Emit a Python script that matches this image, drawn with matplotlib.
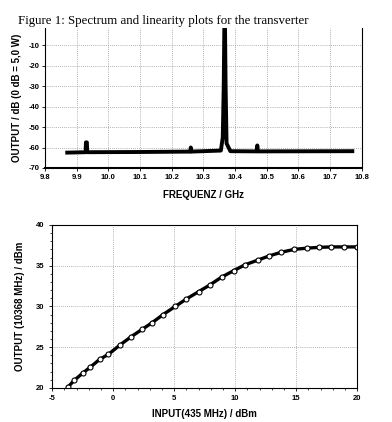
import numpy as np
import matplotlib.pyplot as plt
from matplotlib.ticker import MultipleLocator

# Spektrum (oberes Diagramm)
freq_ghz = [9.87, 9.928, 9.929, 9.932, 9.933, 10.10, 10.258, 10.26, 10.262,
            10.355, 10.361, 10.364, 10.366, 10.368, 10.370, 10.373, 10.385,
            10.468, 10.47, 10.472, 10.77]
level_db = [-62.5, -62.3, -57.5, -57.5, -62.3, -62.2, -62.0, -60.0, -62.0,
            -61.5, -55.0, -30.0, 0.0, 0.0, -30.0, -58.0, -61.8,
            -61.9, -59.0, -61.9, -61.8]
freq_ticks = [9.8, 9.9, 10.0, 10.1, 10.2, 10.3, 10.4, 10.5, 10.6, 10.7, 10.8]
db_ticks = [-70, -60, -50, -40, -30, -20, -10]

# Linearitaet (unteres Diagramm)
input_dbm = [-3.7, -3.2, -2.5, -1.9, -1.1, -0.4, 0.6, 1.5, 2.4, 3.2, 4.1, 5.1,
             6.0, 7.0, 7.9, 8.9, 9.9, 10.8, 11.9, 12.8, 13.8, 14.85, 15.9,
             16.9, 17.9, 18.95, 20.0]
output_dbm = [20.1, 20.9, 21.8, 22.5, 23.5, 24.1, 25.3, 26.3, 27.2, 28.0, 29.0,
              30.0, 30.9, 31.8, 32.6, 33.6, 34.4, 35.1, 35.7, 36.2, 36.65, 37.0,
              37.15, 37.25, 37.3, 37.3, 37.3]

lab_font = {'family': 'Liberation Sans', 'weight': 'bold', 'size': 7}
tick_font = {'family': 'Liberation Sans', 'weight': 'bold', 'size': 5.5}

fig = plt.figure(figsize=(3.92, 4.22), dpi=100)

# oberes Diagramm
ax1 = fig.add_axes([0.115, 0.602, 0.808, 0.332])
ax1.plot(freq_ghz, level_db, color='black', linewidth=2.8, solid_joinstyle='round')
ax1.set_xlim(9.8, 10.8)
ax1.set_ylim(-70, -1.5)
ax1.set_xticks(freq_ticks)
ax1.set_xticklabels(['%.1f' % f for f in freq_ticks], fontdict=tick_font)
ax1.set_yticks(db_ticks)
ax1.set_yticklabels([str(d) for d in db_ticks], fontdict=tick_font)
ax1.grid(True, color='#999999', linestyle=(0, (1, 1.5)), linewidth=0.6)
ax1.spines['top'].set_visible(False)
ax1.spines['bottom'].set_linewidth(1.5)
ax1.spines['left'].set_linewidth(0.8)
ax1.spines['right'].set_linewidth(0.8)
ax1.tick_params(length=2, width=0.6, pad=2)
ax1.set_xlabel('FREQUENZ / GHz', fontdict=lab_font, labelpad=7)
ax1.set_ylabel('OUTPUT / dB (0 dB = 5,0 W)', fontdict=lab_font, labelpad=5)

# unteres Diagramm
ax2 = fig.add_axes([0.133, 0.081, 0.778, 0.386])
ax2.plot(input_dbm, output_dbm, color='black', linewidth=2.4,
         marker='o', markersize=3.6, markerfacecolor='white',
         markeredgecolor='black', markeredgewidth=0.8)
ax2.set_xlim(-5, 20)
ax2.set_ylim(20, 40)
ax2.set_xticks([-5, 0, 5, 10, 15, 20])
ax2.set_xticklabels(['-5', '0', '5', '10', '15', '20'], fontdict=tick_font)
ax2.set_yticks([20, 25, 30, 35, 40])
ax2.set_yticklabels(['20', '25', '30', '35', '40'], fontdict=tick_font)
ax2.xaxis.set_minor_locator(MultipleLocator(1))
ax2.yaxis.set_minor_locator(MultipleLocator(1))
ax2.grid(True, which='major', color='#999999', linestyle=(0, (1, 1.5)), linewidth=0.6)
for s in ax2.spines.values():
    s.set_linewidth(0.8)
ax2.tick_params(which='major', length=2.5, width=0.6, pad=3)
ax2.tick_params(which='minor', length=1.5, width=0.5)
ax2.set_xlabel('INPUT(435 MHz) / dBm', fontdict=lab_font, labelpad=5)
ax2.set_ylabel('OUTPUT (10368 MHz) / dBm', fontdict=lab_font, labelpad=8)

fig.text(0.046, 0.951, 'Figure 1: Spectrum and linearity plots for the transverter',
         family='Liberation Serif', size=9.3, ha='left', va='center',
         bbox=dict(facecolor='white', edgecolor='none', pad=0.5))

fig.savefig('out.png', dpi=100)
